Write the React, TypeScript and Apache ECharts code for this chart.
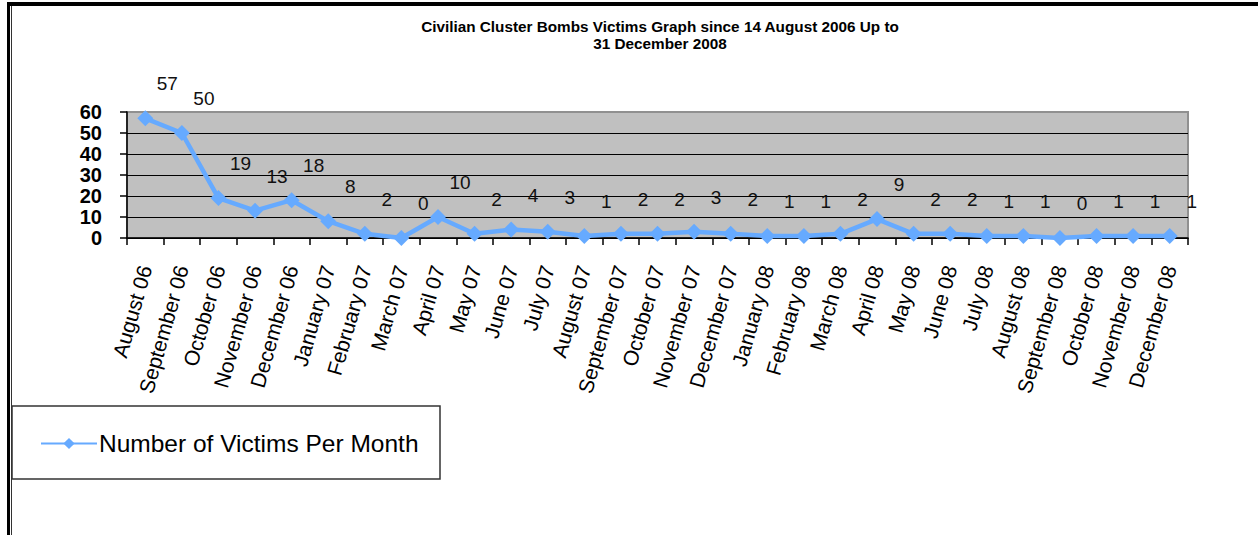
import React, { useEffect, useRef } from "react";
import * as echarts from "echarts";

const months: string[] = [
  "August 06", "September 06", "October 06", "November 06", "December 06",
  "January 07", "February 07", "March 07", "April 07", "May 07", "June 07", "July 07",
  "August 07", "September 07", "October 07", "November 07", "December 07",
  "January 08", "February 08", "March 08", "April 08", "May 08", "June 08", "July 08",
  "August 08", "September 08", "October 08", "November 08", "December 08",
];

const victims: number[] = [
  57, 50, 19, 13, 18,
  8, 2, 0, 10, 2, 4, 3,
  1, 2, 2, 3, 2,
  1, 1, 2, 9, 2, 2, 1,
  1, 0, 1, 1, 1,
];

const seriesName = "Number of Victims Per Month";
const titleText = "Civilian Cluster Bombs Victims Graph since 14 August 2006 Up to\n31 December 2008";

export default function App() {
  const ref = useRef<HTMLDivElement>(null);
  useEffect(() => {
    document.body.style.margin = "0";
    const chart = echarts.init(ref.current!, undefined, { renderer: "svg" });
    const blue = "#66aaff";
    chart.setOption({
      animation: false,
      backgroundColor: "#ffffff",
      title: {
        text: titleText,
        left: 655,
        top: 13,
        textAlign: "center",
        textStyle: {
          fontFamily: "Arial, Liberation Sans",
          fontSize: 15.3,
          fontWeight: "bold",
          color: "#000",
          lineHeight: 17,
        },
      },
      grid: {
        left: 127,
        right: 70,
        top: 112,
        bottom: 297,
        show: true,
        backgroundColor: "#c0c0c0",
        borderColor: "#909090",
        borderWidth: 2,
      },
      legend: {
        left: 35,
        top: 426,
        itemWidth: 56,
        itemHeight: 14,
        itemGap: 0,
        data: [seriesName],
        textStyle: {
          fontFamily: "Arial, Liberation Sans",
          fontSize: 24.5,
          color: "#000",
          padding: [0, 0, 0, -3],
        },
      },
      xAxis: {
        type: "category",
        data: months,
        boundaryGap: true,
        axisLine: { show: true, lineStyle: { color: "#000", width: 1.5 } },
        axisTick: { show: true, interval: 0, length: 7, lineStyle: { color: "#000", width: 1.5 } },
        axisLabel: {
          interval: 0,
          rotate: 74,
          margin: 28,
          fontFamily: "Arial, Liberation Sans",
          fontSize: 21,
          color: "#000",
        },
        splitLine: { show: false },
      },
      yAxis: {
        type: "value",
        min: 0,
        max: 60,
        interval: 10,
        axisLine: { show: true, lineStyle: { color: "#000", width: 1.5 } },
        axisTick: { show: true, length: 7, lineStyle: { color: "#000", width: 1.5 } },
        axisLabel: {
          margin: 25,
          fontFamily: "Arial, Liberation Sans",
          fontSize: 20,
          fontWeight: "bold",
          color: "#000",
        },
        splitLine: {
          show: true,
          lineStyle: {
            color: ["#000", "#000", "#000", "#000", "#000", "#000", "#909090"],
            width: 1.2,
          },
        },
      },
      graphic: [
        { type: "rect", shape: { x: 7, y: 2, width: 1251, height: 4 }, style: { fill: "#000" }, z: 100 },
        { type: "rect", shape: { x: 7, y: 2, width: 3, height: 533 }, style: { fill: "#000" }, z: 100 },
        { type: "rect", shape: { x: 11, y: 6, width: 1, height: 529 }, style: { fill: "#333" }, z: 100 },
        {
          type: "rect",
          shape: { x: 12, y: 406, width: 428, height: 73 },
          style: { fill: "#fff", stroke: "#333", lineWidth: 1.5 },
          z: -1,
        },
      ],
      series: [
        {
          name: seriesName,
          type: "line",
          data: victims,
          symbol: "diamond",
          symbolSize: 16,
          lineStyle: { color: blue, width: 4.5 },
          itemStyle: { color: blue },
          label: {
            show: true,
            position: "top",
            offset: [22, -12],
            fontFamily: "Arial, Liberation Sans",
            fontSize: 19,
            color: "#111",
          },
        },
      ],
    });
    return () => chart.dispose();
  }, []);
  return <div ref={ref} style={{ width: 1258, height: 535 }} />;
}
